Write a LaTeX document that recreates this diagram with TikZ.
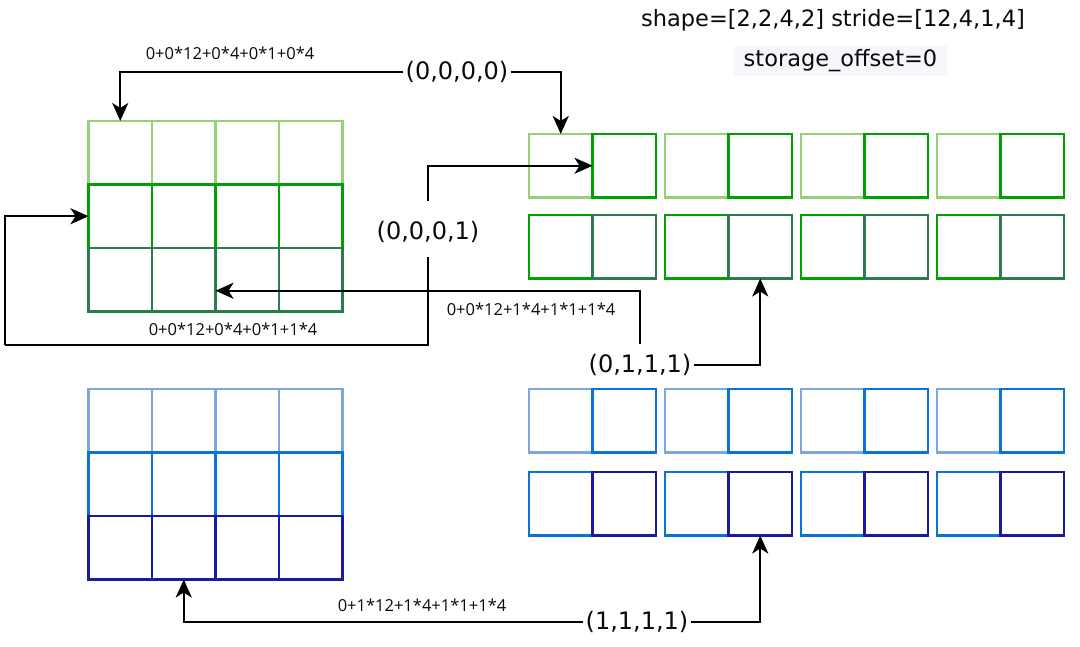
\documentclass[tikz,border=0pt]{standalone}
\usepackage{fontspec}
\setmainfont{DejaVu Sans}
\newfontfamily\smallf{Open Sans}
\usetikzlibrary{arrows.meta,calc}
\definecolor{lg}{HTML}{97D077}
\definecolor{mg}{HTML}{00A000}
\definecolor{dg}{HTML}{2D7A4F}
\definecolor{lb}{HTML}{7EA6E0}
\definecolor{mb}{HTML}{0A74D6}
\definecolor{db}{HTML}{1A1AA0}
\definecolor{txt}{HTML}{0A0A0A}
\definecolor{offbg}{HTML}{F5F7FA}
\begin{document}
\begin{tikzpicture}[x=1pt,y=-1pt,
  cell/.style={draw,line width=2.6pt,minimum width=63.5pt,minimum height=63.5pt,inner sep=0pt,outer sep=0pt},
  arr/.style={line width=2.3pt,draw=black,-{Stealth[length=18pt,width=16pt,inset=5pt]}},
  conn/.style={line width=2.3pt,draw=black},
  big/.style={font=\fontsize{24}{28}\selectfont,text=txt,inner sep=2pt},
  formula/.style={font=\smallf\fontsize{16.5}{19}\selectfont,text=txt,inner sep=0pt},
  head/.style={font=\fontsize{22.5}{26}\selectfont,text=txt,inner sep=0pt}]
\useasboundingbox (0,0) rectangle (1080,647);
% left grids
\foreach \r/\cg/\cb in {1/lg/lb,2/mg/mb,3/dg/db}{
  \foreach \c in {1,2,3,4}{
    \node[cell,draw=\cg] (ga\r\c) at ({120.25+63.5*(\c-1)},{152.75+63.5*(\r-1)}) {};
    \node[cell,draw=\cb] (gb\r\c) at ({120.25+63.5*(\c-1)},{420.75+63.5*(\r-1)}) {};
  }
}
% right arrays
\foreach \g in {0,1,2,3}{
  \pgfmathsetmacro\xl{560.75+136*\g}
  \pgfmathsetmacro\xr{\xl+63.5}
  \node[cell,draw=lg] (ra1l\g) at (\xl,165.75) {};
  \node[cell,draw=mg] (ra1r\g) at (\xr,165.75) {};
  \node[cell,draw=mg] (ra2l\g) at (\xl,246.75) {};
  \node[cell,draw=dg] (ra2r\g) at (\xr,246.75) {};
  \node[cell,draw=lb] (rb1l\g) at (\xl,420.75) {};
  \node[cell,draw=mb] (rb1r\g) at (\xr,420.75) {};
  \node[cell,draw=mb] (rb2l\g) at (\xl,503.75) {};
  \node[cell,draw=db] (rb2r\g) at (\xr,503.75) {};
}
% header
\node[head] (shape) at (833,20) {shape=[2,2,4,2] stride=[12,4,1,4]};
\node[head,fill=offbg,minimum width=213pt,minimum height=30pt] (offset) at (840.5,61) {storage\_offset=0};
% index labels
\node[big] (i0000) at (457,72) {(0,0,0,0)};
\node[big] (i0001) at (428,232) {(0,0,0,1)};
\node[big] (i0111) at (640,365) {(0,1,1,1)};
\node[big] (i1111) at (637,622) {(1,1,1,1)};
% formulas
\node[formula] (f0000) at (230,53) {0+0*12+0*4+0*1+0*4};
\node[formula] (f0001) at (233,329) {0+0*12+0*4+0*1+1*4};
\node[formula] (f0111) at (531,309) {0+0*12+1*4+1*1+1*4};
\node[formula] (f1111) at (422,605) {0+1*12+1*4+1*1+1*4};
% helper coordinates
\coordinate (c0001) at (5,345);
\coordinate (t0111) at ([yshift=-11pt]ga33.west);
% connectors
\draw[arr] (i0000.west) -| (ga11.north);
\draw[arr] (i0000.east) -| (ra1l0.north);
\draw[arr,shorten <=18pt] (i0001.north) |- (ra1r0.west);
\draw[conn,shorten <=12pt] (i0001.south) |- (c0001);
\draw[arr] (c0001) |- (ga21.west);
\draw[arr,shorten <=8pt] (i0111.north) |- (t0111);
\draw[arr] (i0111.east) -| (ra2r1.south);
\draw[arr] (i1111.west) -| (gb32.south);
\draw[arr] (i1111.east) -| (rb2r1.south);
\end{tikzpicture}
\end{document}
